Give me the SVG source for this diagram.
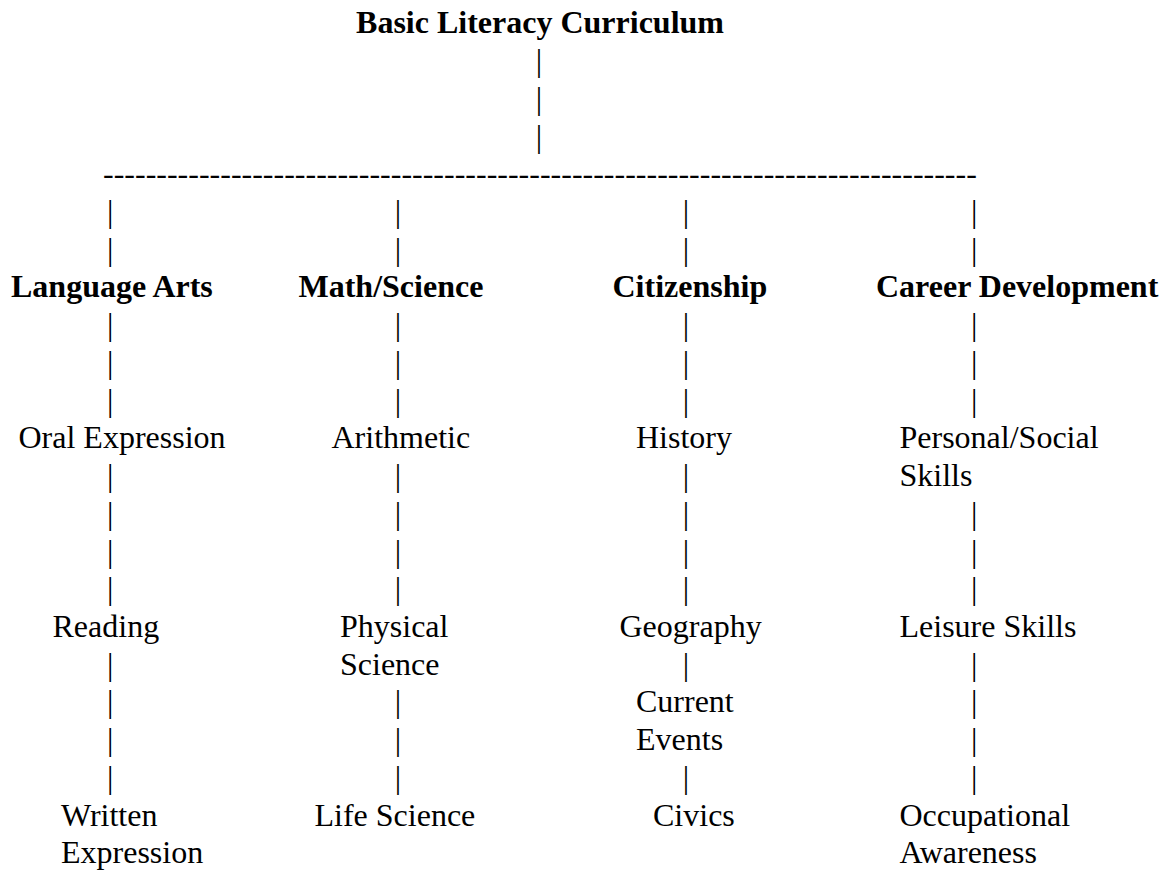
<svg xmlns="http://www.w3.org/2000/svg" width="1171" height="871" viewBox="0 0 1171 871">
<style>
text{font-family:"Liberation Serif","Times New Roman",serif;font-size:32px;fill:#000}
.b{font-weight:bold}
</style>
<rect width="1171" height="871" fill="#fff"/>
<g id="connectors">
<text x="535.7" y="71.0">|</text>
<text x="535.7" y="108.8">|</text>
<text x="535.7" y="146.5">|</text>
<text x="103" y="184.2">----------------------------------------------------------------------------------</text>
<text x="107" y="222.0">|</text><text x="107" y="259.7">|</text>
<text x="394.8" y="222.0">|</text><text x="394.8" y="259.7">|</text>
<text x="682.7" y="222.0">|</text><text x="682.7" y="259.7">|</text>
<text x="971.1" y="222.0">|</text><text x="971.1" y="259.7">|</text>
<text x="107" y="335.1">|</text><text x="107" y="372.9">|</text><text x="107" y="410.6">|</text>
<text x="394.8" y="335.1">|</text><text x="394.8" y="372.9">|</text><text x="394.8" y="410.6">|</text>
<text x="682.7" y="335.1">|</text><text x="682.7" y="372.9">|</text><text x="682.7" y="410.6">|</text>
<text x="971.1" y="335.1">|</text><text x="971.1" y="372.9">|</text><text x="971.1" y="410.6">|</text>
<text x="107" y="486.1">|</text><text x="107" y="523.8">|</text><text x="107" y="561.5">|</text><text x="107" y="599.3">|</text>
<text x="394.8" y="486.1">|</text><text x="394.8" y="523.8">|</text><text x="394.8" y="561.5">|</text><text x="394.8" y="599.3">|</text>
<text x="682.7" y="486.1">|</text><text x="682.7" y="523.8">|</text><text x="682.7" y="561.5">|</text><text x="682.7" y="599.3">|</text>
<text x="971.1" y="523.8">|</text><text x="971.1" y="561.5">|</text><text x="971.1" y="599.3">|</text>
<text x="107" y="674.7">|</text><text x="107" y="712.4">|</text><text x="107" y="750.2">|</text><text x="107" y="787.9">|</text>
<text x="394.8" y="712.4">|</text><text x="394.8" y="750.2">|</text><text x="394.8" y="787.9">|</text>
<text x="682.7" y="674.7">|</text><text x="682.7" y="787.9">|</text>
<text x="971.1" y="674.7">|</text><text x="971.1" y="712.4">|</text><text x="971.1" y="750.2">|</text><text x="971.1" y="787.9">|</text>
</g>
<g id="root"><text class="b" x="540" y="33.3" text-anchor="middle">Basic Literacy Curriculum</text></g>
<g id="language-arts"><text class="b" x="11" y="297.4">Language Arts</text></g>
<g id="math-science"><text class="b" x="298.5" y="297.4">Math/Science</text></g>
<g id="citizenship"><text class="b" x="612.5" y="297.4">Citizenship</text></g>
<g id="career-development"><text class="b" x="876" y="297.4">Career Development</text></g>
<g id="oral-expression"><text x="18.5" y="448.3">Oral Expression</text></g>
<g id="reading"><text x="52.5" y="637.0">Reading</text></g>
<g id="written-expression"><text x="61" y="825.6">Written</text><text x="61" y="863.4">Expression</text></g>
<g id="arithmetic"><text x="331.5" y="448.3">Arithmetic</text></g>
<g id="physical-science"><text x="340" y="637.0">Physical</text><text x="340" y="674.7">Science</text></g>
<g id="life-science"><text x="314.5" y="825.6">Life Science</text></g>
<g id="history"><text x="636" y="448.3">History</text></g>
<g id="geography"><text x="619.5" y="637.0">Geography</text></g>
<g id="current-events"><text x="636" y="712.4">Current</text><text x="636" y="750.2">Events</text></g>
<g id="civics"><text x="653" y="825.6">Civics</text></g>
<g id="personal-social-skills"><text x="899.5" y="448.3">Personal/Social</text><text x="899.5" y="486.1">Skills</text></g>
<g id="leisure-skills"><text x="899.5" y="637.0">Leisure Skills</text></g>
<g id="occupational-awareness"><text x="899.5" y="825.6">Occupational</text><text x="899.5" y="863.4">Awareness</text></g>
</svg>
